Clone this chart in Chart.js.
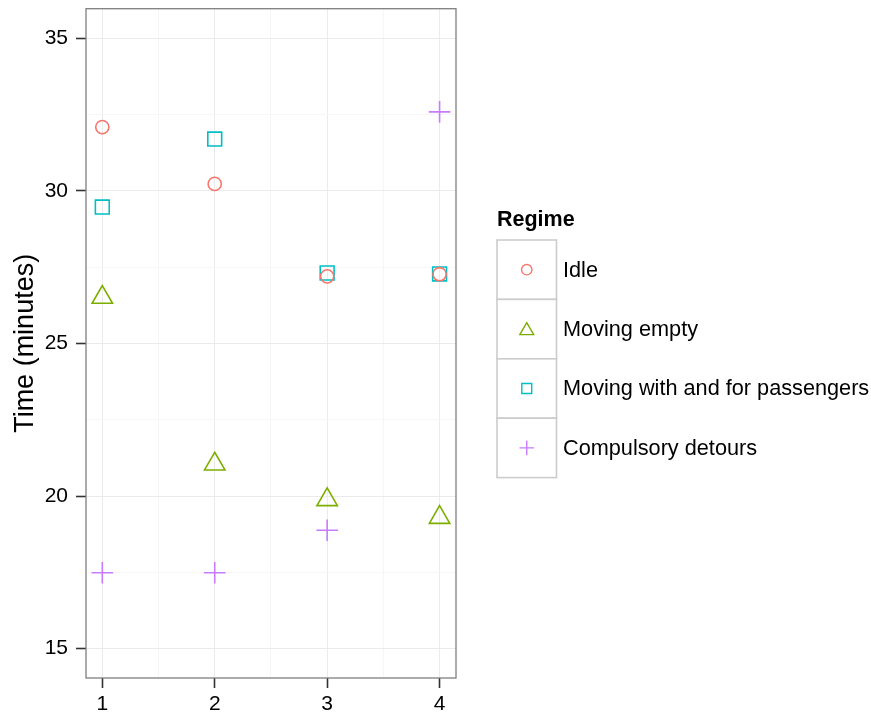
<!DOCTYPE html>
<html><head><meta charset="utf-8">
<script src="https://cdn.jsdelivr.net/npm/chart.js@4"></script>
<style>html,body{margin:0;padding:0;background:#fff;}#wrap{width:871px;height:712px;position:relative;}</style>
</head><body><div id="wrap"><canvas id="c" width="871" height="712"></canvas></div>
<script>
const categories = [1, 2, 3, 4];
const seriesNames = ['Idle', 'Moving empty', 'Moving with and for passengers', 'Compulsory detours'];
const idle = [32.09, 30.23, 27.20, 27.27];
const movingEmpty = [26.51, 21.05, 19.88, 19.30];
const movingWith = [29.47, 31.70, 27.31, 27.28];
const detours = [17.49, 17.49, 18.88, 32.59];
const xTicks = [1, 1.5, 2, 2.5, 3, 3.5, 4];
const yTicks = [15, 17.5, 20, 22.5, 25, 27.5, 30, 32.5, 35];
const legendTitle = 'Regime';
const yTitle = 'Time (minutes)';

const FONT = "'Liberation Sans', Arial, Helvetica, sans-serif";
const colors = ['#F8766D', '#7CAE00', '#00BFC4', '#C77CFF'];
const styles = ['circle', 'triangle', 'rect', 'cross'];
const radii = [6.6, 11.8, 9.8, 10.8];
const legendRadii = [5.2, 8, 7, 7.3];
const seriesValues = [idle, movingEmpty, movingWith, detours];

const datasets = seriesValues.map((vals, i) => ({
  label: seriesNames[i],
  data: categories.map((c, j) => ({x: c, y: vals[j]})),
  pointStyle: styles[i],
  pointRadius: radii[i],
  pointHoverRadius: radii[i],
  pointBorderWidth: 1.6,
  borderColor: colors[i],
  pointBorderColor: colors[i],
  backgroundColor: 'rgba(0,0,0,0)',
  pointBackgroundColor: 'rgba(0,0,0,0)',
  showLine: false
}));

function drawMarker(ctx, style, x, y, r) {
  ctx.beginPath();
  if (style === 'circle') {
    ctx.arc(x, y, r, 0, Math.PI * 2);
  } else if (style === 'rect') {
    const s = Math.SQRT1_2 * r;
    ctx.rect(x - s, y - s, 2 * s, 2 * s);
  } else if (style === 'triangle') {
    let a = 0;
    ctx.moveTo(x + Math.sin(a) * r, y - Math.cos(a) * r);
    a += 2 * Math.PI / 3;
    ctx.lineTo(x + Math.sin(a) * r, y - Math.cos(a) * r);
    a += 2 * Math.PI / 3;
    ctx.lineTo(x + Math.sin(a) * r, y - Math.cos(a) * r);
    ctx.closePath();
  } else if (style === 'cross') {
    ctx.moveTo(x, y - r); ctx.lineTo(x, y + r);
    ctx.moveTo(x - r, y); ctx.lineTo(x + r, y);
  }
  ctx.stroke();
}

const framePlugin = {
  id: 'frame',
  afterDraw(chart) {
    const ctx = chart.ctx;
    const a = chart.chartArea;
    ctx.save();
    ctx.strokeStyle = '#7F7F7F';
    ctx.lineWidth = 1.3;
    ctx.strokeRect(a.left, a.top, a.right - a.left, a.bottom - a.top);

    // legend
    const lx = 497, ly = 240, kw = 59.5, kh = 59.4;
    ctx.fillStyle = '#000';
    ctx.font = "bold 21.5px " + FONT;
    ctx.textAlign = 'left';
    ctx.textBaseline = 'alphabetic';
    ctx.fillText(legendTitle, lx, 226);
    seriesNames.forEach((name, i) => {
      const y0 = ly + i * kh;
      ctx.fillStyle = '#fff';
      ctx.fillRect(lx, y0, kw, kh);
      ctx.strokeStyle = '#CCCCCC';
      ctx.lineWidth = 1.6;
      ctx.strokeRect(lx, y0, kw, kh);
      ctx.strokeStyle = colors[i];
      ctx.lineWidth = 1.4;
      drawMarker(ctx, styles[i], lx + kw / 2, y0 + kh / 2 + (styles[i] === 'triangle' ? 1.5 : 0), legendRadii[i]);
      ctx.fillStyle = '#000';
      ctx.font = "21.7px " + FONT;
      ctx.textBaseline = 'middle';
      ctx.fillText(name, 563, y0 + kh / 2 + 1);
    });
    ctx.restore();
  }
};

const isMajorX = v => Math.abs(v - Math.round(v)) < 1e-9;
const isMajorY = v => Math.abs(v / 5 - Math.round(v / 5)) < 1e-9;

new Chart(document.getElementById('c'), {
  type: 'scatter',
  data: {datasets},
  plugins: [framePlugin],
  options: {
    responsive: false,
    animation: false,
    devicePixelRatio: 1,
    layout: {autoPadding: false, padding: {left: 0, right: 415, top: 8.7, bottom: 0}},
    plugins: {legend: {display: false}, tooltip: {enabled: false}},
    scales: {
      x: {
        type: 'linear',
        min: 0.855, max: 4.146,
        afterBuildTicks: s => { s.ticks = xTicks.map(v => ({value: v})); },
        afterFit: s => { s.height = 34; s.paddingLeft = 0; s.paddingRight = 0; },
        border: {display: false},
        grid: {
          color: c => (c.tick && isMajorX(c.tick.value)) ? '#EBEBEB' : '#F6F6F6',
          lineWidth: 1,
          drawTicks: true,
          tickLength: 10,
          tickWidth: 1.6,
          tickColor: c => (c.tick && isMajorX(c.tick.value)) ? '#333333' : 'rgba(0,0,0,0)'
        },
        ticks: {
          autoSkip: false, maxRotation: 0, padding: 4, color: '#000',
          font: {family: FONT, size: 21},
          callback: v => isMajorX(v) ? String(v) : ''
        }
      },
      y: {
        type: 'linear',
        min: 14.04, max: 35.97,
        afterBuildTicks: s => { s.ticks = yTicks.map(v => ({value: v})); },
        afterFit: s => { s.width = 86; s.paddingTop = 0; s.paddingBottom = 0; },
        border: {display: false},
        grid: {
          color: c => (c.tick && isMajorY(c.tick.value)) ? '#EBEBEB' : '#F6F6F6',
          lineWidth: 1,
          drawTicks: true,
          tickLength: 10,
          tickWidth: 1.6,
          tickColor: c => (c.tick && isMajorY(c.tick.value)) ? '#333333' : 'rgba(0,0,0,0)'
        },
        ticks: {
          autoSkip: false, padding: 8, color: '#000',
          font: {family: FONT, size: 21, lineHeight: 0.5},
          callback: v => isMajorY(v) ? String(v) : ''
        },
        title: {
          display: true, text: yTitle, color: '#000',
          font: {family: FONT, size: 27, weight: 'normal'},
          padding: {top: 9, bottom: 0}
        }
      }
    }
  }
});
</script>
</body></html>
